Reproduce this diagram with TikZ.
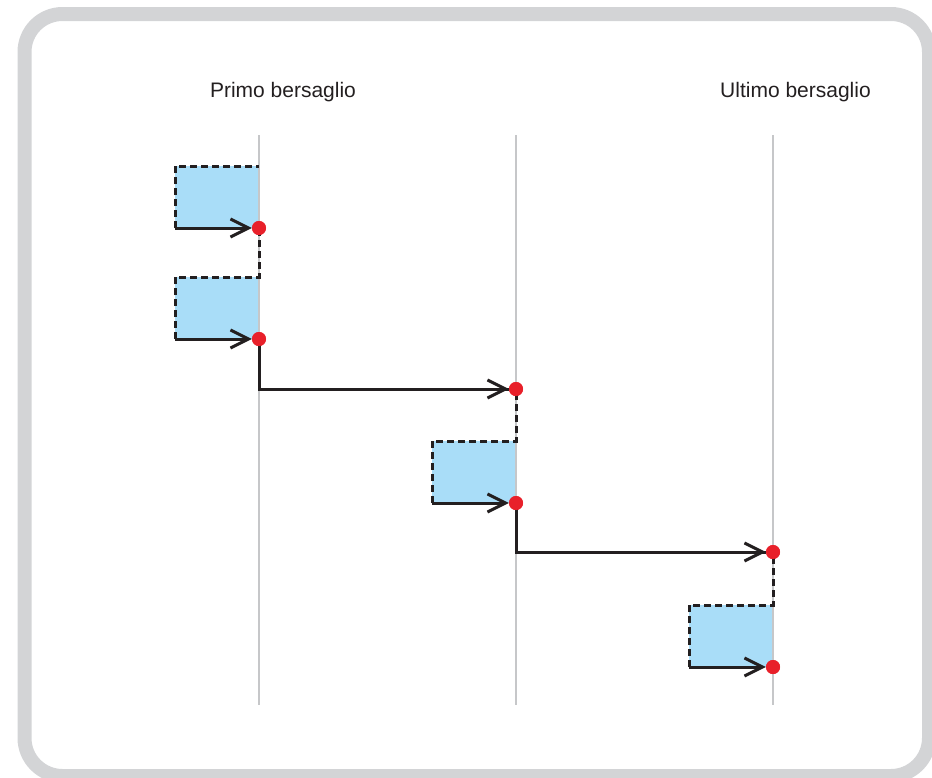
\documentclass[tikz,border=0pt]{standalone}
\usepackage{fontspec}
\setmainfont{Liberation Sans}
\usetikzlibrary{arrows.meta}
\definecolor{framegray}{HTML}{D3D4D6}
\definecolor{guidegray}{HTML}{C6C7C9}
\definecolor{boxblue}{HTML}{A9DDF8}
\definecolor{dotred}{HTML}{E8202A}
\definecolor{inkdark}{HTML}{231F20}
\tikzset{
  frame/.style={line width=14pt, draw=framegray, rounded corners=38pt},
  guide/.style={line width=2pt, draw=guidegray},
  boxfill/.style={fill=boxblue, draw=none},
  dashline/.style={line width=3pt, draw=inkdark, dash pattern=on 7pt off 4pt},
  arrowline/.style={line width=3pt, draw=inkdark, -{Straight Barb[length=18pt,width=18pt,line width=3pt]}},
  plainline/.style={line width=3pt, draw=inkdark},
  reddot/.style={circle, fill=dotred, inner sep=0pt, minimum size=14pt},
  label/.style={font=\fontsize{21}{24}\selectfont, text=inkdark, anchor=base, inner sep=0pt}
}
\begin{document}
\begin{tikzpicture}[x=1pt,y=-1pt]
\useasboundingbox (0,0) rectangle (932,777);
\draw[frame] (24.5,14) rectangle (929,776);

\node[label] (t1) at (283,97) {Primo bersaglio};
\node[label] (t2) at (795.5,97) {Ultimo bersaglio};

% boxes
\fill[boxfill] (175,166) rectangle (259,228);
\fill[boxfill] (175,277) rectangle (259,339);
\fill[boxfill] (432,441) rectangle (516,503);
\fill[boxfill] (689,605) rectangle (773,667);

% guide lines
\coordinate (g1t) at (259,135); \coordinate (g1b) at (259,705);
\coordinate (g2t) at (516,135); \coordinate (g2b) at (516,705);
\coordinate (g3t) at (773,135); \coordinate (g3b) at (773,705);
\draw[guide] (g1t) -- (g1b);
\draw[guide] (g2t) -- (g2b);
\draw[guide] (g3t) -- (g3b);

% dots (named)
\node[reddot] (d1) at (259,228) {};
\node[reddot] (d2) at (259,339) {};
\node[reddot] (d3) at (516,389) {};
\node[reddot] (d4) at (516,503) {};
\node[reddot] (d5) at (773,552) {};
\node[reddot] (d6) at (773,667) {};

% arrow starts
\coordinate (a1) at (175,228);
\coordinate (a2) at (175,339);
\coordinate (a4) at (432,503);
\coordinate (a6) at (689,667);

% dashed outlines
\draw[dashline] (175,228) -- (175,166) -- (259,166);
\draw[dashline] (175,339) -- (175,277) -- (259,277) -- (d1.center);
\draw[dashline] (432,503) -- (432,441) -- (516,441) -- (d3.center);
\draw[dashline] (689,667) -- (689,605) -- (773,605) -- (d5.center);

% arrows
\draw[arrowline] (a1) -- (d1.west);
\draw[arrowline] (a2) -- (d2.west);
\draw[arrowline] (a4) -- (d4.west);
\draw[arrowline] (a6) -- (d6.west);
\draw[plainline] (d2.center) -- (259,389) -- (d3.west) ;
\draw[arrowline] (259,389) -- (d3.west);
\draw[plainline] (d4.center) -- (516,552) -- (d5.west);
\draw[arrowline] (516,552) -- (d5.west);

% redraw dots on top
\node[reddot] at (d1) {};
\node[reddot] at (d2) {};
\node[reddot] at (d3) {};
\node[reddot] at (d4) {};
\node[reddot] at (d5) {};
\node[reddot] at (d6) {};
\end{tikzpicture}
\end{document}
